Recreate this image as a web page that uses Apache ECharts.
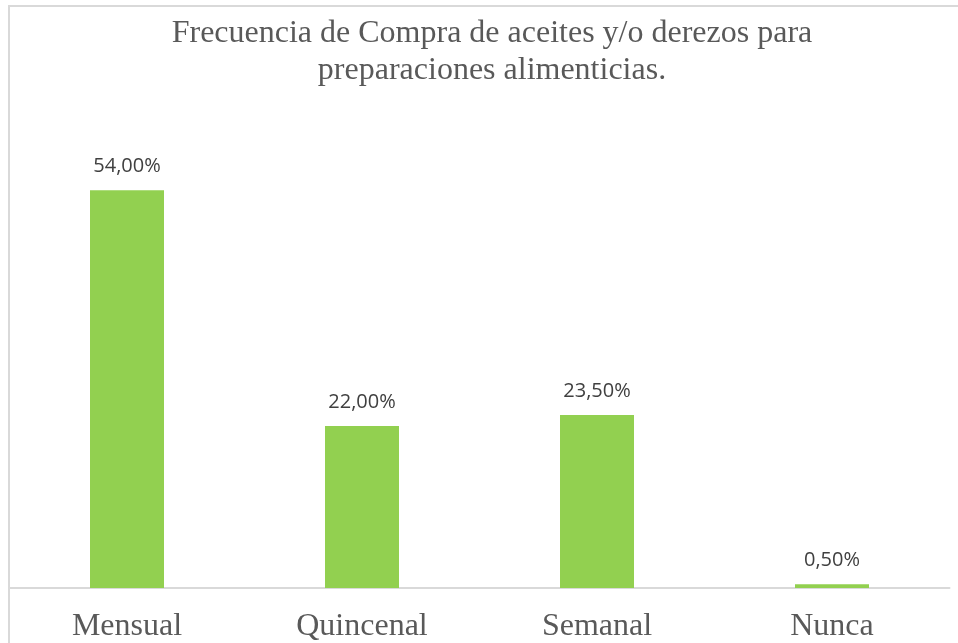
<!DOCTYPE html>
<html>
<head>
<meta charset="utf-8">
<script src="https://cdn.jsdelivr.net/npm/echarts@6/dist/echarts.min.js"></script>
<style>
  html, body { margin: 0; padding: 0; background: #fff; }
  #chart { width: 958px; height: 643px; }
</style>
</head>
<body>
<div id="chart"></div>
<script>
const categories = ['Mensual', 'Quincenal', 'Semanal', 'Nunca'];
const values = [54.0, 22.0, 23.5, 0.5];
const titleLines = ['Frecuencia de Compra de aceites y/o derezos para', 'preparaciones alimenticias.'];

const chart = echarts.init(document.getElementById('chart'));

chart.setOption({
  animation: false,
  title: {
    text: titleLines.join('\n'),
    left: 487,
    top: 10,
    textAlign: 'center',
    textStyle: {
      fontFamily: '"Liberation Serif", serif',
      fontWeight: 'normal',
      fontSize: 32,
      lineHeight: 37,
      color: '#595959'
    }
  },
  graphic: [{
    type: 'rect',
    shape: { x: 9, y: 6, width: 1000, height: 700 },
    style: { fill: 'none', stroke: '#d9d9d9', lineWidth: 2 },
    silent: true
  }],
  grid: { left: 9.5, right: 8.5, top: 146, bottom: 53 },
  xAxis: {
    type: 'category',
    data: categories,
    axisLine: { lineStyle: { color: '#d9d9d9', width: 2 } },
    axisTick: { show: false },
    axisLabel: {
      margin: 23,
      fontFamily: '"Liberation Serif", serif',
      fontSize: 32,
      color: '#595959'
    }
  },
  yAxis: {
    type: 'value',
    min: 0,
    max: 60,
    show: false,
    splitLine: { show: false }
  },
  series: [{
    type: 'bar',
    data: values,
    barWidth: 74,
    itemStyle: { color: '#92D050' },
    label: {
      show: true,
      position: 'top',
      distance: 14,
      fontFamily: '"Open Sans", sans-serif',
      fontSize: 20,
      color: '#404040',
      formatter: p => p.value.toFixed(2).replace('.', ',') + '%'
    }
  }]
});
</script>
</body>
</html>
